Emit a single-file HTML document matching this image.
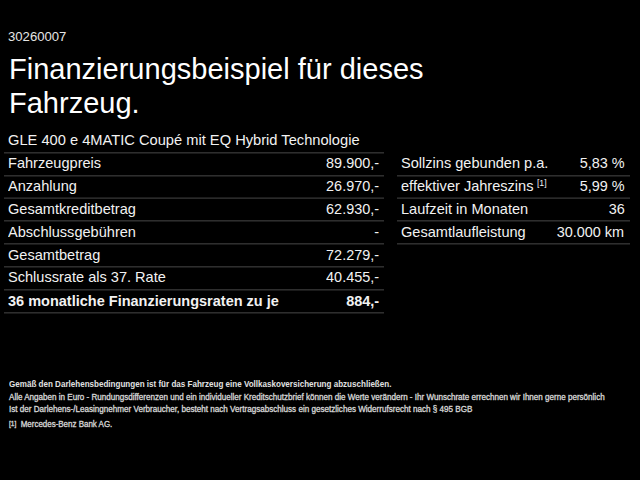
<!DOCTYPE html>
<html><head><meta charset="utf-8">
<style>
html,body{margin:0;padding:0;background:#000;}
body{width:640px;height:480px;overflow:hidden;position:relative;font-family:"Liberation Sans",sans-serif;}
.t{position:absolute;white-space:nowrap;line-height:0;}
.ln{position:absolute;height:1px;background:#2e2e2e;box-shadow:0 1px 0 #1a1a1a;}
sup{font-size:9px;vertical-align:top;position:relative;top:-3px;margin-left:3.5px;}
</style></head><body>
<div class="ln" style="left:4px;width:380px;top:152px"></div>
<div class="ln" style="left:4px;width:380px;top:175px"></div>
<div class="ln" style="left:4px;width:380px;top:197px;background:#1c1c1c;box-shadow:0 1px 0 #2a2a2a"></div>
<div class="ln" style="left:4px;width:380px;top:220px"></div>
<div class="ln" style="left:4px;width:380px;top:243px"></div>
<div class="ln" style="left:4px;width:380px;top:266px"></div>
<div class="ln" style="left:4px;width:380px;top:289px"></div>
<div class="ln" style="left:4px;width:380px;top:312px"></div>
<div class="ln" style="left:397px;width:233px;top:175px"></div>
<div class="ln" style="left:397px;width:233px;top:197px;background:#1c1c1c;box-shadow:0 1px 0 #2a2a2a"></div>
<div class="ln" style="left:397px;width:233px;top:220px"></div>
<div class="ln" style="left:397px;width:233px;top:243px"></div>
<div class="t" style="left:8.00px;transform-origin:0 0;top:36.50px;font-size:13px;transform:scaleX(1.0101);font-weight:normal;color:#e6e6e6">30260007</div>
<div class="t" style="left:9.20px;transform-origin:0 0;top:68.80px;font-size:29.5px;transform:scaleX(0.9837);font-weight:normal;color:#ffffff">Finanzierungsbeispiel für dieses</div>
<div class="t" style="left:9.20px;transform-origin:0 0;top:102.65px;font-size:29.5px;transform:scaleX(0.9837);font-weight:normal;color:#ffffff">Fahrzeug.</div>
<div class="t" style="left:8.00px;transform-origin:0 0;top:140.20px;font-size:15px;transform:scaleX(0.9777);font-weight:normal;color:#f2f2f2">GLE 400 e 4MATIC Coupé mit EQ Hybrid Technologie</div>
<div class="t" style="left:8.20px;transform-origin:0 0;top:163.00px;font-size:15px;transform:scaleX(0.9710);font-weight:normal;color:#f2f2f2">Fahrzeugpreis</div>
<div class="t" style="right:261.20px;transform-origin:100% 0;top:163.00px;font-size:15px;transform:scaleX(0.9620);font-weight:normal;color:#f2f2f2">89.900,-</div>
<div class="t" style="left:8.20px;transform-origin:0 0;top:185.89px;font-size:15px;transform:scaleX(0.9710);font-weight:normal;color:#f2f2f2">Anzahlung</div>
<div class="t" style="right:261.20px;transform-origin:100% 0;top:185.89px;font-size:15px;transform:scaleX(0.9620);font-weight:normal;color:#f2f2f2">26.970,-</div>
<div class="t" style="left:8.20px;transform-origin:0 0;top:208.77px;font-size:15px;transform:scaleX(0.9710);font-weight:normal;color:#f2f2f2">Gesamtkreditbetrag</div>
<div class="t" style="right:261.20px;transform-origin:100% 0;top:208.77px;font-size:15px;transform:scaleX(0.9620);font-weight:normal;color:#f2f2f2">62.930,-</div>
<div class="t" style="left:8.20px;transform-origin:0 0;top:231.66px;font-size:15px;transform:scaleX(0.9710);font-weight:normal;color:#f2f2f2">Abschlussgebühren</div>
<div class="t" style="right:261.20px;transform-origin:100% 0;top:231.66px;font-size:15px;transform:scaleX(0.9620);font-weight:normal;color:#f2f2f2">-</div>
<div class="t" style="left:8.20px;transform-origin:0 0;top:254.54px;font-size:15px;transform:scaleX(0.9710);font-weight:normal;color:#f2f2f2">Gesamtbetrag</div>
<div class="t" style="right:261.20px;transform-origin:100% 0;top:254.54px;font-size:15px;transform:scaleX(0.9620);font-weight:normal;color:#f2f2f2">72.279,-</div>
<div class="t" style="left:8.20px;transform-origin:0 0;top:277.43px;font-size:15px;transform:scaleX(0.9710);font-weight:normal;color:#f2f2f2">Schlussrate als 37. Rate</div>
<div class="t" style="right:261.20px;transform-origin:100% 0;top:277.43px;font-size:15px;transform:scaleX(0.9620);font-weight:normal;color:#f2f2f2">40.455,-</div>
<div class="t" style="left:8.20px;transform-origin:0 0;top:301.06px;font-size:15px;transform:scaleX(0.9671);font-weight:bold;color:#f2f2f2">36 monatliche Finanzierungsraten zu je</div>
<div class="t" style="right:261.20px;transform-origin:100% 0;top:301.06px;font-size:15px;transform:scaleX(0.9671);font-weight:bold;color:#f2f2f2">884,-</div>
<div class="t" style="left:401.40px;transform-origin:0 0;top:163.00px;font-size:15px;transform:scaleX(0.9710);font-weight:normal;color:#f2f2f2">Sollzins gebunden p.a.</div>
<div class="t" style="right:15.70px;transform-origin:100% 0;top:163.00px;font-size:15px;transform:scaleX(0.9620);font-weight:normal;color:#f2f2f2">5,83 %</div>
<div class="t" style="left:401.40px;transform-origin:0 0;top:185.89px;font-size:15px;transform:scaleX(0.9710);font-weight:normal;color:#f2f2f2">effektiver Jahreszins<sup>[1]</sup></div>
<div class="t" style="right:15.70px;transform-origin:100% 0;top:185.89px;font-size:15px;transform:scaleX(0.9620);font-weight:normal;color:#f2f2f2">5,99 %</div>
<div class="t" style="left:401.40px;transform-origin:0 0;top:208.77px;font-size:15px;transform:scaleX(0.9710);font-weight:normal;color:#f2f2f2">Laufzeit in Monaten</div>
<div class="t" style="right:15.70px;transform-origin:100% 0;top:208.77px;font-size:15px;transform:scaleX(0.9620);font-weight:normal;color:#f2f2f2">36</div>
<div class="t" style="left:401.40px;transform-origin:0 0;top:231.66px;font-size:15px;transform:scaleX(0.9710);font-weight:normal;color:#f2f2f2">Gesamtlaufleistung</div>
<div class="t" style="right:15.70px;transform-origin:100% 0;top:231.66px;font-size:15px;transform:scaleX(0.9620);font-weight:normal;color:#f2f2f2">30.000 km</div>
<div class="t" style="left:9.00px;transform-origin:0 0;top:383.80px;font-size:8.5px;transform:scaleX(0.9473);font-weight:bold;color:#e2e2e2">Gemäß den Darlehensbedingungen ist für das Fahrzeug eine Vollkaskoversicherung abzuschließen.</div>
<div class="t" style="left:9.00px;transform-origin:0 0;top:397.00px;font-size:8.5px;transform:scaleX(0.9486);font-weight:normal;color:#e2e2e2;-webkit-text-stroke:0.3px #cfcfcf">Alle Angaben in Euro - Rundungsdifferenzen und ein individueller Kreditschutzbrief können die Werte verändern - Ihr Wunschrate errechnen wir Ihnen gerne persönlich</div>
<div class="t" style="left:9.00px;transform-origin:0 0;top:408.80px;font-size:8.5px;transform:scaleX(0.9511);font-weight:normal;color:#e2e2e2;-webkit-text-stroke:0.3px #cfcfcf">Ist der Darlehens-/Leasingnehmer Verbraucher, besteht nach Vertragsabschluss ein gesetzliches Widerrufsrecht nach § 495 BGB</div>
<div class="t" style="left:9.00px;transform-origin:0 0;top:424.10px;font-size:8.5px;transform:scaleX(0.9373);font-weight:normal;color:#e2e2e2;-webkit-text-stroke:0.3px #cfcfcf"><span style="font-size:7px;position:relative;top:-1px;margin-right:2.3px">[1]</span> Mercedes-Benz Bank AG.</div>
</body></html>
